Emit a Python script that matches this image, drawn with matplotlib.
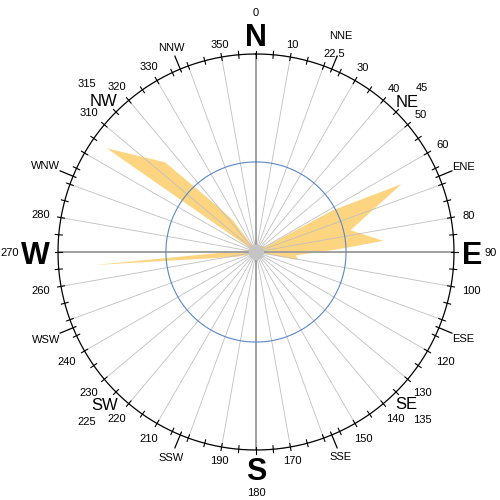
import numpy as np
import matplotlib
matplotlib.use("Agg")
import matplotlib.pyplot as plt

plt.rcParams['font.family'] = ['Liberation Sans', 'DejaVu Sans']

# wind rose outline: bearing (deg, clockwise from N) and relative length (outer ring = 1)
direction = [0, 4, 4.5, 5.5, 20, 40, 55, 60.5, 61.5, 65, 77, 85, 88, 95, 100.5, 102,
             130, 164, 164.6, 165.5, 200, 240, 256, 265.4, 272, 290, 303.5, 304.8,
             314.6, 320, 324, 327, 340, 352.5, 353.2, 354]
length = [0.02, 0.02, 0.26, 0.02, 0.03, 0.04, 0.05, 0.06, 0.44, 0.81, 0.49, 0.645, 0.42, 0.2, 0.22, 0.03,
          0.02, 0.02, 0.27, 0.02, 0.02, 0.02, 0.1, 0.82, 0.1, 0.03, 0.05, 0.918,
          0.645, 0.3, 0.2, 0.05, 0.03, 0.02, 0.30, 0.02]

ring_level = 0.455   # blue reference circle

number_ticks = [10, 30, 40, 50, 60, 80, 100, 120, 130, 140, 150, 170, 190, 210, 220, 230,
                240, 260, 280, 310, 320, 330, 350]
cardinals = {'N': 0, 'E': 90, 'S': 180, 'W': 270}
intercardinals = {'NE': 45, 'SE': 135, 'SW': 225, 'NW': 315}
sixteen = {'NNE': 22.5, 'ENE': 67.5, 'ESE': 112.5, 'SSE': 157.5,
           'SSW': 202.5, 'WSW': 247.5, 'WNW': 292.5, 'NNW': 337.5}

R = 198.0  # outer ring radius in pixels
fig = plt.figure(figsize=(5, 5), dpi=100)
ax = fig.add_axes([(256 - R) / 500, (248 - R) / 500, 2 * R / 500, 2 * R / 500], projection='polar')
ax.set_theta_zero_location('N')
ax.set_theta_direction(-1)
ax.set_ylim(0, 1)
ax.grid(False)
ax.set_xticks([])
ax.set_yticks([])
ax.spines['polar'].set_visible(False)

th = np.radians(direction)
ax.fill(np.append(th, th[0]), np.append(length, length[0]), color='#FDD480', lw=0, zorder=1)

# radial guide lines
for a in range(0, 360, 10):
    if a % 90 == 0:
        ax.plot([np.radians(a)] * 2, [0, 1], color='#a0a0a0', lw=1.4, zorder=2)
    else:
        ax.plot([np.radians(a)] * 2, [0, 1], color='#c0c0c0', lw=0.6, zorder=2)

circ = np.linspace(0, 2 * np.pi, 721)
ax.plot(circ, np.full_like(circ, ring_level), color='#5b88c8', lw=0.8, zorder=3)
ax.plot(circ, np.ones_like(circ), color='black', lw=0.9, zorder=4, clip_on=False)

# ticks on the outer ring
for a in np.arange(0, 360, 5):
    ax.plot([np.radians(a)] * 2, [(R - 3.5) / R, (R + 3.5) / R], color='black', lw=0.8, zorder=4, clip_on=False)
for a in sixteen.values():
    ax.plot([np.radians(a)] * 2, [(R - 3) / R, (R + 14) / R], color='black', lw=0.9, zorder=4, clip_on=False)

ax.plot([0], [0], 'o', ms=11, color='#c4c4c4', mec='none', zorder=5)

fig.canvas.draw()
rend = fig.canvas.get_renderer()


def half_extent(t, ang, size):
    w = t.get_window_extent(rend).width
    h = 0.72 * size * 100 / 72
    a = np.radians(ang)
    return abs(np.sin(a)) * w / 2 + abs(np.cos(a)) * h / 2


def put(s, ang, edge, size, **kw):
    # place text so its near side sits `edge` pixels from the centre
    t = ax.text(np.radians(ang), 1, s, fontsize=size, ha='center', va='center_baseline', **kw)
    hx = half_extent(t, ang, size)
    t.set_position((np.radians(ang), (edge + hx) / R))
    return edge + 2 * hx


for a in number_ticks:
    s = abs(np.sin(np.radians(a)))
    put(str(a), a, R + 7 + 4 * s, 8)

for s, a in cardinals.items():
    far = put(s, a, R + 8, 22, fontweight='bold')
    c = abs(np.cos(np.radians(a)))
    put(str(a), a, far + 2.5 + 5.5 * c, 8)

for s, a in intercardinals.items():
    far = put(s, a, R + 3, 12)
    put(str(a), a, far + 1, 8)

for s, a in sixteen.items():
    if s == 'NNE':
        far = put('22.5', a - 1, R + 8, 8)
        put(s, a - 1.2, far + 4, 8)
    else:
        put(s, a, R + 15, 8)

fig.savefig('out.png', dpi=100)
